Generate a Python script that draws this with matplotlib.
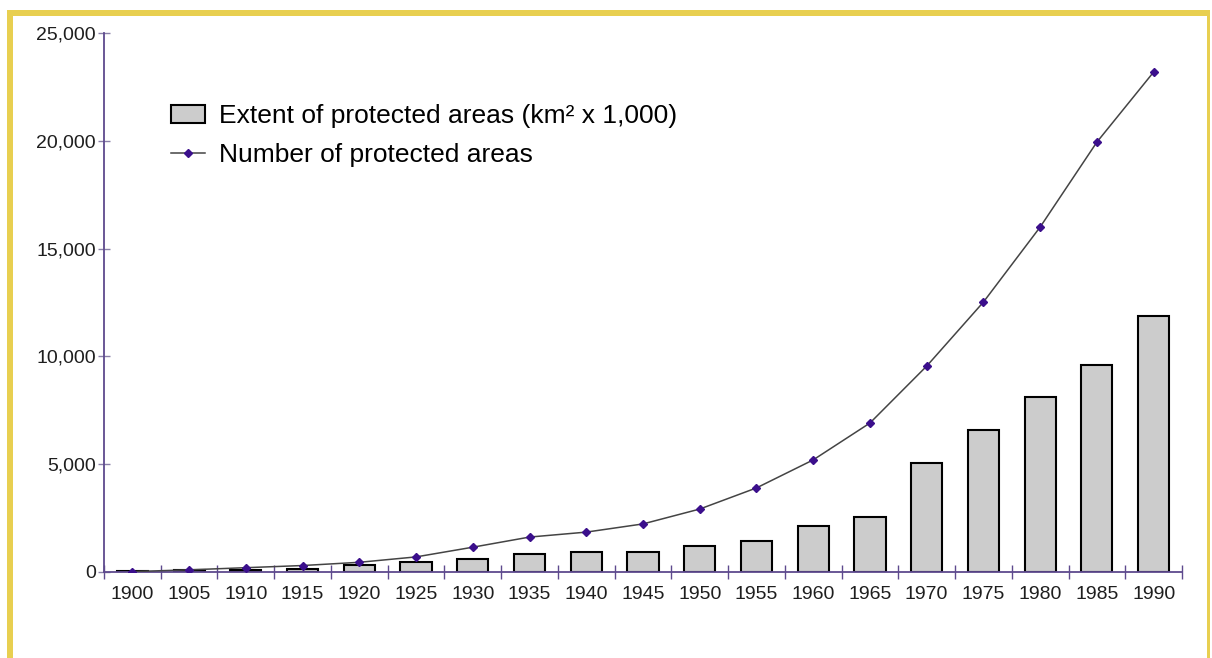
import matplotlib.pyplot as plt
from matplotlib.patches import Rectangle
from matplotlib.lines import Line2D

years = ["1900", "1905", "1910", "1915", "1920", "1925", "1930", "1935", "1940", "1945",
         "1950", "1955", "1960", "1965", "1970", "1975", "1980", "1985", "1990"]
extent = [50, 80, 100, 120, 320, 460, 600, 830, 920, 920,
          1200, 1440, 2130, 2560, 5050, 6590, 8110, 9600, 11880]
number = [20, 100, 200, 300, 450, 700, 1150, 1620, 1850, 2230,
          2920, 3900, 5200, 6910, 9550, 12520, 16000, 19940, 23190]
yticks = [0, 5000, 10000, 15000, 20000, 25000]

AXIS_COL = "#5e4a8e"
MARK_COL = "#3b0f8c"
TEXT_COL = "#1e1e1e"

plt.rcParams['font.family'] = ['Liberation Sans', 'DejaVu Sans']

fig = plt.figure(figsize=(12.12, 6.58), dpi=100)
ax = fig.add_axes([104 / 1212, 1 - 572 / 658, 1078 / 1212, 539 / 658])

x = list(range(len(years)))
ax.bar(x, extent, width=0.55, color="#cccccc", edgecolor="black", linewidth=1.5, zorder=2)
ax.plot(x, number, color="#444444", linewidth=1.1, marker="D", markersize=4.5,
        markerfacecolor=MARK_COL, markeredgecolor=MARK_COL, zorder=3)

ax.set_xlim(-0.5, len(years) - 0.5)
ax.set_ylim(0, 25000)
ax.set_xticks(x)
ax.set_xticklabels(years)
ax.set_xticks([i + 0.5 for i in range(-1, len(years))], minor=True)
ax.tick_params(axis="x", which="major", length=0, pad=10, labelsize=14, labelcolor=TEXT_COL)
ax.tick_params(axis="x", which="minor", direction="inout", length=10, width=1, color=AXIS_COL)
ax.set_yticks(yticks)
ax.set_yticklabels([f"{v:,}" for v in yticks])
ax.tick_params(axis="y", direction="inout", length=8, width=1, color="#8a80a8",
               pad=2, labelsize=14, labelcolor=TEXT_COL)

for s in ["top", "right"]:
    ax.spines[s].set_visible(False)
for s in ["left", "bottom"]:
    ax.spines[s].set_color(AXIS_COL)
    ax.spines[s].set_linewidth(1.3)

handles = [
    Rectangle((0, 0), 1, 1, facecolor="#cccccc", edgecolor="black", linewidth=1.5),
    Line2D([], [], color="#444444", linewidth=1.1, marker="D", markersize=4,
           markerfacecolor=MARK_COL, markeredgecolor=MARK_COL),
]
labels = ["Extent of protected areas (km² x 1,000)", "Number of protected areas"]
ax.legend(handles, labels, loc="upper left", bbox_to_anchor=(0.052, 0.887), frameon=False,
          fontsize=19, handlelength=1.3, handletextpad=0.55, labelspacing=0.55,
          borderaxespad=0)

# yellow frame around the chart
frame_col = "#e8cf50"
W, H = 1212, 658
fig.patches.append(Rectangle((7 / W, 0), 6 / W, 1 - 10 / H, transform=fig.transFigure,
                             facecolor=frame_col, edgecolor="none"))
fig.patches.append(Rectangle((7 / W, 1 - 16 / H), 1203 / W, 6 / H, transform=fig.transFigure,
                             facecolor=frame_col, edgecolor="none"))
fig.patches.append(Rectangle((1207 / W, 0), 3 / W, 1 - 10 / H, transform=fig.transFigure,
                             facecolor=frame_col, edgecolor="none"))

fig.savefig("out.png", dpi=100)
